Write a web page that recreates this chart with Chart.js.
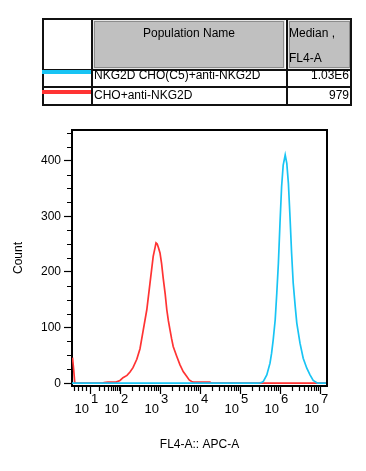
<!DOCTYPE html>
<html>
<head>
<meta charset="utf-8">
<title>FL4-A histogram</title>
<script src="https://cdn.jsdelivr.net/npm/chart.js"></script>
<style>
body{margin:0;background:#fff;font-family:"Liberation Sans",Arial,sans-serif;}
#wrap{position:relative;width:366px;height:471px;overflow:hidden;}
#chart{position:absolute;left:0;top:0;}
.box{position:absolute;box-sizing:border-box;}
.txt{position:absolute;font-size:12px;color:#000;white-space:nowrap;line-height:14px;}
.hdr{position:absolute;box-sizing:border-box;background:#c0c0c0;border:1px solid #8c8c8c;outline:1px solid #e6e6e6;}
.ln{position:absolute;background:#111;}
</style>
</head>
<body>
<div id="wrap">
  <canvas id="chart" width="366" height="471"></canvas>
  <div id="tbl"></div>
</div>
<script>
// population table
const popNames = ['NKG2D CHO(C5)+anti-NKG2D', 'CHO+anti-NKG2D'];
const popMedians = ['1.03E6', '979'];
const popColors = ['#18c4f4', '#ff3333'];
const headNames = ['Population Name', 'Median ,', 'FL4-A'];

// histogram, x in display decades (10^n sits at n, logicle compressed below 10^2)
const blueX = [0.8, 5.45, 5.53, 5.58, 5.67, 5.75, 5.79, 5.83, 5.88, 5.92, 5.96, 6.0, 6.04, 6.08, 6.13, 6.17, 6.21, 6.25, 6.29, 6.33, 6.38, 6.42, 6.5, 6.58, 6.67, 6.75, 6.83, 6.92, 6.95, 7.175];
const blueY = [0, 0, 1, 3, 15, 36, 54, 78, 114, 162, 216, 288, 353, 392, 410, 395, 359, 299, 234, 180, 138, 108, 72, 45, 27, 15, 5, 1, 0, 0];
const redX = [0.8125, 0.8425, 0.8675, 0.9, 1.575, 1.6, 1.7, 1.9, 2.0, 2.075, 2.175, 2.25, 2.325, 2.42, 2.5, 2.58, 2.67, 2.75, 2.83, 2.88, 2.9, 2.93, 2.96, 3.0, 3.04, 3.08, 3.13, 3.17, 3.21, 3.25, 3.29, 3.33, 3.42, 3.5, 3.58, 3.67, 3.73, 3.79, 3.83, 4.25, 4.28, 7.175];
const redY = [46, 24, 2, 0, 0, 1, 2, 2, 5, 10, 14, 20, 28, 43, 62, 95, 132, 180, 228, 245, 252, 250, 244, 234, 215, 189, 160, 132, 112, 96, 80, 66, 48, 33, 21, 12, 6, 3, 2, 2, 0, 0];

const xTickExp = [1, 2, 3, 4, 5, 6, 7];
const xTickPos = [1.25, 2, 3, 4, 5, 6, 7];
const yTicks = [0, 100, 200, 300, 400];
const xTitle = 'FL4-A:: APC-A';
const yTitle = 'Count';

const FONT = '"Liberation Sans", Arial, sans-serif';

// ---- table (plain html) ----
function add(cls, css, text) {
  const d = document.createElement('div');
  d.className = cls;
  Object.assign(d.style, css);
  if (text) d.textContent = text;
  document.getElementById('tbl').appendChild(d);
  return d;
}
add('hdr', {left: '94px', top: '21px', width: '190px', height: '47px'});
add('hdr', {left: '289px', top: '21px', width: '61px', height: '47px'});
// grid lines
add('ln', {left: '42px', top: '18px', width: '310px', height: '2px'});
add('ln', {left: '42px', top: '69px', width: '310px', height: '2px'});
add('ln', {left: '42px', top: '86px', width: '310px', height: '2px'});
add('ln', {left: '42px', top: '104px', width: '310px', height: '2px'});
add('ln', {left: '42px', top: '18px', width: '2px', height: '88px'});
add('ln', {left: '91px', top: '18px', width: '2px', height: '88px'});
add('ln', {left: '286px', top: '18px', width: '2px', height: '88px'});
add('ln', {left: '350px', top: '18px', width: '2px', height: '88px'});
add('txt', {left: '92px', width: '194px', top: '26px', textAlign: 'center'}, headNames[0]);
add('txt', {left: '289px', top: '26px'}, headNames[1]);
add('txt', {left: '289px', top: '51px'}, headNames[2]);
const rowTop = [68, 88];
popNames.forEach((n, i) => {
  add('box', {left: '42px', top: (rowTop[i] + 2) + 'px', width: '49px', height: '4px', background: popColors[i]});
  add('txt', {left: '94px', top: rowTop[i] + 'px'}, n);
  add('txt', {right: '17px', top: rowTop[i] + 'px', textAlign: 'right'}, popMedians[i]);
});

// ---- chart ----
const frame = {
  id: 'frame',
  afterDraw(chart) {
    const {ctx, chartArea: a, scales: {x, y}} = chart;
    ctx.save();
    ctx.strokeStyle = '#000';
    ctx.lineWidth = 2;
    ctx.beginPath();
    ctx.moveTo(a.left, a.top);
    ctx.lineTo(a.right, a.top);
    ctx.lineTo(a.right, a.bottom);
    ctx.stroke();

    // minor ticks
    ctx.lineWidth = 1.2;
    ctx.beginPath();
    const minorX = [0.86, 0.95, 1.05, 1.15];
    for (let k = 2; k <= 9; k++) minorX.push(1.25 + 0.75 * Math.log10(k));
    for (let n = 2; n <= 6; n++) for (let k = 2; k <= 9; k++) minorX.push(n + Math.log10(k));
    minorX.forEach(v => {
      const px = Math.round(x.getPixelForValue(v)) + 0.5;
      ctx.moveTo(px, a.bottom + 1);
      ctx.lineTo(px, a.bottom + 5);
    });
    for (let v = 25; v < 455; v += 25) {
      if (v % 100 === 0) continue;
      const py = Math.round(y.getPixelForValue(v)) + 0.5;
      ctx.moveTo(a.left - 5, py);
      ctx.lineTo(a.left, py);
    }
    ctx.stroke();

    // 10^n labels
    ctx.fillStyle = '#000';
    ctx.font = '13px ' + FONT;
    ctx.textBaseline = 'alphabetic';
    xTickExp.forEach((e, i) => {
      const px = x.getPixelForValue(xTickPos[i]);
      ctx.textAlign = 'right';
      ctx.fillText('10', px - 1, 413);
      ctx.textAlign = 'left';
      ctx.fillText(String(e), px + 1, 403);
    });
    ctx.restore();
  }
};

new Chart(document.getElementById('chart'), {
  type: 'line',
  data: {
    datasets: [
      {label: popNames[0], data: blueX.map((v, i) => ({x: v, y: blueY[i]})), borderColor: popColors[0], borderWidth: 1.7, pointRadius: 0, tension: 0, fill: false},
      {label: popNames[1], data: redX.map((v, i) => ({x: v, y: redY[i]})), borderColor: popColors[1], borderWidth: 1.7, pointRadius: 0, tension: 0, fill: false}
    ]
  },
  options: {
    responsive: false,
    animation: false,
    layout: {padding: {top: 130, right: 39, left: 0, bottom: 0}},
    plugins: {legend: {display: false}, tooltip: {enabled: false}},
    scales: {
      x: {
        type: 'linear', min: 0.8, max: 7.175,
        afterBuildTicks: s => { s.ticks = xTickPos.map(v => ({value: v})); },
        afterFit: s => { s.height = 85; },
        border: {color: '#000', width: 2},
        grid: {drawOnChartArea: false, drawTicks: true, tickLength: 8, tickColor: '#000', tickWidth: 1.2},
        ticks: {display: false},
        title: {display: true, text: xTitle, color: '#000', font: {size: 12, family: FONT}, padding: {top: 0, bottom: 19}}
      },
      y: {
        min: -5, max: 455,
        afterBuildTicks: s => { s.ticks = yTicks.map(v => ({value: v})); },
        afterFit: s => { s.width = 72; },
        border: {color: '#000', width: 2},
        grid: {drawOnChartArea: false, drawTicks: true, tickLength: 8, tickColor: '#000', tickWidth: 1.2},
        ticks: {color: '#000', font: {size: 12, family: FONT}, padding: 3},
        title: {display: true, text: yTitle, color: '#000', font: {size: 12, family: FONT}, padding: {top: 11, bottom: 0}}
      }
    }
  },
  plugins: [frame]
});
</script>
</body>
</html>
